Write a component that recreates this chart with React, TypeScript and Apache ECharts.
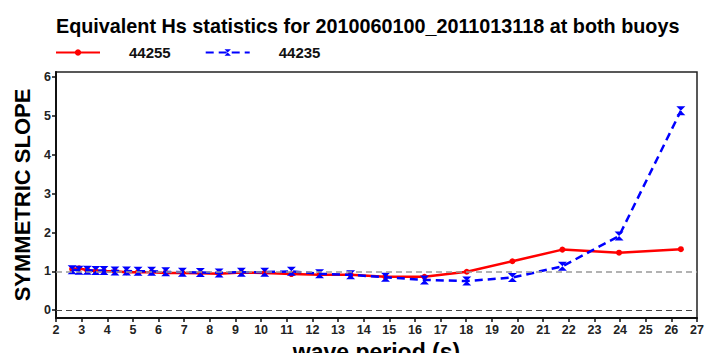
import React, { useEffect, useRef } from "react";
import * as echarts from "echarts";

const periods = [2.63, 2.9, 3.22, 3.55, 3.87, 4.3, 4.75, 5.2, 5.73, 6.28, 6.93, 7.63, 8.36, 9.23, 10.14, 11.18, 12.28, 13.49, 14.85, 16.37, 18.02, 19.8, 21.75, 23.96, 26.37];
const buoy44255 = [1.06, 1.08, 1.03, 1.01, 1.0, 1.0, 0.98, 0.98, 0.98, 0.96, 0.96, 0.95, 0.94, 0.97, 0.96, 0.93, 0.91, 0.91, 0.86, 0.86, 0.99, 1.26, 1.56, 1.48, 1.57];
const buoy44235 = [1.04, 1.03, 1.03, 1.02, 1.02, 1.01, 1.01, 1.0, 1.0, 0.99, 0.98, 0.97, 0.96, 0.98, 0.98, 1.0, 0.94, 0.91, 0.85, 0.78, 0.75, 0.84, 1.13, 1.91, 5.13];
const yTicks = [0, 1, 2, 3, 4, 5, 6];
const seriesNames = ["44255", "44235"];
const titleText = "Equivalent Hs statistics for 2010060100_2011013118 at both buoys";

const FONT = "Liberation Sans, Arial, sans-serif";

export default function App() {
  const ref = useRef<HTMLDivElement>(null);
  useEffect(() => {
    if (!ref.current) return;
    const chart = echarts.init(ref.current, null, { renderer: "svg" });
    const hourglass = "path://M0,0L10,0L5,5L10,10L0,10L5,5Z";
    chart.setOption({
      animation: false,
      backgroundColor: "#fff",
      title: {
        text: titleText,
        left: 51,
        top: 11,
        textStyle: { fontFamily: FONT, fontSize: 19.8, fontWeight: "bold", color: "#000" },
      },
      legend: {
        left: 50,
        top: 40,
        itemWidth: 44,
        itemHeight: 8,
        itemGap: 34,
        textStyle: { fontFamily: FONT, fontSize: 15, fontWeight: "bold", color: "#111", padding: [0, 0, 0, 24] },
        data: seriesNames,
      },
      grid: {
        left: 56,
        right: 13,
        top: 72,
        bottom: 35,
        show: true,
        borderColor: "#222",
        borderWidth: 1.5,
        outerBoundsMode: "none",
        containLabel: false,
      },
      xAxis: {
        type: "value",
        min: 2,
        max: 27,
        interval: 1,
        name: "wave period (s)",
        nameLocation: "middle",
        nameGap: 22,
        nameTextStyle: { fontFamily: FONT, fontSize: 23, fontWeight: "bold", color: "#000" },
        axisLine: { show: true, onZero: false, lineStyle: { color: "#111", width: 2 } },
        axisTick: { show: true, inside: false, length: 4, lineStyle: { color: "#111", width: 1.5 } },
        axisLabel: { fontFamily: FONT, fontSize: 12.5, fontWeight: "bold", color: "#222", margin: 5 },
        splitLine: { show: false },
      },
      yAxis: {
        type: "value",
        min: -0.2,
        max: 6.13,
        name: "SYMMETRIC SLOPE",
        nameLocation: "middle",
        nameGap: 12,
        nameTextStyle: { fontFamily: FONT, fontSize: 22, fontWeight: "bold", color: "#000" },
        axisLine: { show: true, lineStyle: { color: "#111", width: 2 } },
        axisTick: { show: true, inside: false, length: 4, customValues: yTicks, lineStyle: { color: "#111", width: 1.5 } },
        axisLabel: { fontFamily: FONT, fontSize: 12.5, fontWeight: "bold", color: "#222", margin: 5, customValues: yTicks },
        splitLine: { show: false },
      },
      series: [
        {
          name: seriesNames[0],
          type: "line",
          data: periods.map((p, i) => [p, buoy44255[i]]),
          symbol: "circle",
          symbolSize: 6,
          itemStyle: { color: "#ff0000" },
          lineStyle: { color: "#ff0000", width: 2.5 },
          z: 3,
          markLine: {
            silent: true,
            symbol: "none",
            label: { show: false },
            data: [
              { yAxis: 1, lineStyle: { color: "#999", type: [6, 4], width: 1.5 } },
              { yAxis: 0, lineStyle: { color: "#444", type: [6, 4], width: 1.2 } },
            ],
          },
        },
        {
          name: seriesNames[1],
          type: "line",
          data: periods.map((p, i) => [p, buoy44235[i]]),
          symbol: hourglass,
          symbolSize: 9,
          itemStyle: { color: "#0000ff" },
          lineStyle: { color: "#0000ff", width: 2.5, type: [8, 5] },
          z: 4,
        },
      ],
    });
    return () => chart.dispose();
  }, []);
  return <div ref={ref} style={{ width: 710, height: 353, position: "absolute", left: 0, top: 0 }} />;
}
